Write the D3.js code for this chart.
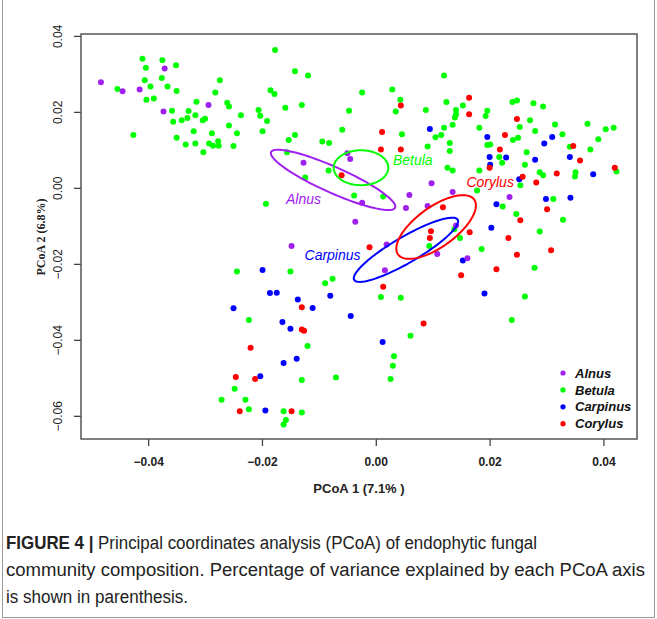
<!DOCTYPE html>
<html>
<head>
<meta charset="utf-8">
<script src="https://cdn.jsdelivr.net/npm/d3@7/dist/d3.min.js"></script>
<style>
body { margin: 0; background: #fff; }
</style>
</head>
<body>
<div id="chart"></div>
<script>
// groups and colours
const groups = ["Alnus", "Betula", "Carpinus", "Corylus"];
const colors = ["#A020F0", "#00FF00", "#0000FF", "#FF0000"];

const xTicks = [-0.04, -0.02, 0, 0.02, 0.04];
const yTicks = [0.04, 0.02, 0, -0.02, -0.04, -0.06];

// PCoA scores [axis1, axis2]
const alnus = [
  [-0.0371, 0.0314], [-0.0483, 0.0278], [-0.0445, 0.0254], [-0.0415, 0.0259],
  [-0.0294, 0.0218], [-0.0373, 0.0201], [-0.0127, 0.0066], [-0.0050, 0.0091],
  [-0.0045, 0.0076], [0.0098, 0.0012], [0.0135, -0.0011], [0.0235, -0.0024],
  [0.0059, -0.0019], [-0.0024, -0.0039], [0.0053, -0.0053], [0.0091, -0.0048],
  [-0.0036, -0.0089], [0.0141, -0.0099], [0.0108, -0.0174], [-0.0148, -0.0153],
  [0.0019, -0.0149], [0.0016, -0.0217], [0.0161, -0.0185]
];

const betula = [
  [-0.0177, 0.0363], [-0.0410, 0.0340], [-0.0375, 0.0336], [-0.0351, 0.0323],
  [-0.0404, 0.0316], [-0.0454, 0.0260], [-0.0406, 0.0283], [-0.0396, 0.0267],
  [-0.0376, 0.0289], [-0.0366, 0.0267], [-0.0350, 0.0255], [-0.0274, 0.0283],
  [-0.0282, 0.0251], [-0.0185, 0.0257], [-0.0178, 0.0247], [-0.0403, 0.0232],
  [-0.0390, 0.0235], [-0.0315, 0.0227], [-0.0261, 0.0224], [-0.0258, 0.0214],
  [-0.0358, 0.0203], [-0.0329, 0.0202], [-0.0317, 0.0191], [-0.0331, 0.0184],
  [-0.0341, 0.0178], [-0.0356, 0.0174], [-0.0300, 0.0182], [-0.0304, 0.0178],
  [-0.0206, 0.0205], [-0.0203, 0.0190], [-0.0237, 0.0191], [-0.0191, 0.0176],
  [-0.0258, 0.0164], [-0.0320, 0.0149], [-0.0288, 0.0144], [-0.0244, 0.0144],
  [-0.0199, 0.0149], [-0.0426, 0.0139], [-0.0350, 0.0132], [-0.0334, 0.0114],
  [-0.0317, 0.0117], [-0.0293, 0.0117], [-0.0277, 0.0123], [-0.0286, 0.0111],
  [-0.0276, 0.0111], [-0.0250, 0.0110], [-0.0303, 0.0094],
  [-0.0142, 0.0307], [-0.0119, 0.0296], [0.0120, 0.0296], [-0.0024, 0.0251],
  [0.0029, 0.0259], [0.0043, 0.0232], [0.0035, 0.0201], [0.0088, 0.0205],
  [0.0124, 0.0226], [0.0141, 0.0205], [0.0141, 0.0194], [0.0139, 0.0185],
  [0.0135, 0.0166], [-0.0159, 0.0211], [-0.0130, 0.0218], [-0.0047, 0.0203],
  [-0.0059, 0.0153], [0.0120, 0.0158], [0.0105, 0.0133], [0.0115, 0.0139],
  [0.0130, 0.0118], [-0.0142, 0.0139], [-0.0153, 0.0126], [0.0046, 0.0141],
  [-0.0094, 0.0122], [-0.0082, 0.0118], [0.0091, 0.0109], [0.0130, 0.0097],
  [-0.0156, 0.0094], [-0.0083, 0.0046], [-0.0124, 0.0027], [0.0126, 0.0053],
  [0.0135, 0.0046],
  [0.0153, 0.0217], [0.0240, 0.0226], [0.0248, 0.0230], [0.0277, 0.0223],
  [0.0294, 0.0214], [0.0196, 0.0203], [0.0193, 0.0189], [0.0271, 0.0178],
  [0.0253, 0.0160], [0.0280, 0.0150], [0.0315, 0.0167], [0.0372, 0.0169],
  [0.0404, 0.0154], [0.0418, 0.0158], [0.0182, 0.0158], [0.0250, 0.0132],
  [0.0241, 0.0126], [0.0328, 0.0141], [0.0391, 0.0128], [0.0196, 0.0113],
  [0.0201, 0.0114], [0.0341, 0.0108], [0.0377, 0.0101], [0.0217, 0.0081],
  [0.0222, 0.0066], [0.0265, 0.0094], [0.0262, 0.0061], [0.0182, 0.0046],
  [0.0288, 0.0041], [0.0294, 0.0033], [0.0351, 0.0041], [0.0350, 0.0030],
  [0.0423, 0.0043],
  [0.0254, 0.0007], [0.0178, -0.0007], [0.0223, -0.0049], [0.0312, -0.0029],
  [0.0247, -0.0069], [0.0329, -0.0084], [0.0138, -0.0109], [0.0148, -0.0132],
  [0.0288, -0.0115], [0.0186, -0.0161], [0.0279, -0.0210], [0.0262, -0.0286],
  [0.0239, -0.0348],
  [-0.0193, -0.0042], [-0.0038, -0.0020], [0.0013, -0.0023], [0.0094, -0.0153],
  [0.0009, -0.0287], [0.0044, -0.0289], [-0.0150, -0.0220], [-0.0089, -0.0251],
  [-0.0076, -0.0239], [-0.0244, -0.0220], [-0.0223, -0.0348], [-0.0248, -0.0529],
  [-0.0271, -0.0558], [-0.0229, -0.0558], [-0.0223, -0.0583], [0.0061, -0.0389],
  [-0.0120, -0.0416], [0.0032, -0.0443], [0.0030, -0.0468], [0.0026, -0.0503],
  [-0.0130, -0.0506], [-0.0070, -0.0499], [-0.0162, -0.0588], [-0.0130, -0.0591],
  [-0.0158, -0.0611], [-0.0162, -0.0623]
];

const carpinus = [
  [0.0095, 0.0155], [0.0196, 0.0134], [0.0310, 0.0134], [0.0296, 0.0117],
  [0.0200, 0.0081], [0.0229, 0.0080], [0.0280, 0.0074], [0.0341, 0.0081],
  [0.0201, 0.0061], [0.0382, 0.0036], [0.0252, 0.0023], [0.0212, -0.0043],
  [0.0299, -0.0029], [0.0342, -0.0026], [0.0203, -0.0105], [0.0153, -0.0191],
  [0.0191, -0.0278], [-0.0199, -0.0216], [-0.0186, -0.0277], [-0.0174, -0.0276],
  [-0.0137, -0.0294], [-0.0080, -0.0284], [-0.0111, -0.0316], [-0.0250, -0.0317],
  [-0.0044, -0.0337], [-0.0164, -0.0353], [-0.0150, -0.0371], [0.0012, -0.0406],
  [-0.0139, -0.0450], [-0.0162, -0.0461], [-0.0203, -0.0496], [-0.0194, -0.0586]
];

const corylus = [
  [0.0044, 0.0217], [0.0011, 0.0147], [0.0009, 0.0101], [0.0044, 0.0101],
  [-0.0060, 0.0033], [0.0164, 0.0237], [0.0164, 0.0194], [0.0248, 0.0181],
  [0.0227, 0.0139], [0.0218, 0.0101], [0.0347, 0.0110], [0.0359, 0.0072],
  [0.0200, 0.0053], [0.0318, 0.0038], [0.0420, 0.0053], [0.0258, 0.0029],
  [0.0282, 0.0014], [0.0118, -0.0051], [0.0254, -0.0085], [0.0301, -0.0056],
  [0.0165, -0.0117], [0.0233, -0.0132], [0.0248, -0.0176], [0.0308, -0.0164],
  [0.0212, -0.0214], [0.0150, -0.0230], [0.0097, -0.0114], [0.0095, -0.0132],
  [-0.0011, -0.0156], [0.0013, -0.0260], [-0.0130, -0.0314], [0.0084, -0.0357],
  [-0.0130, -0.0373], [-0.0126, -0.0376], [-0.0220, -0.0421], [-0.0246, -0.0498],
  [-0.0212, -0.0503], [-0.0239, -0.0588], [-0.0148, -0.0588]
];

// group ellipses: centre and the two semi-axis vectors, in PCoA units
const ellipseCentre = [[-0.0075, 0.0021], [-0.0026, 0.0053], [0.0053, -0.0163], [0.0106, -0.0103]];
const ellipseAxisU = [[0.0109, -0.0073], [0.0048, 0.0000], [0.0091, 0.0079], [0.0067, 0.0072]];
const ellipseAxisV = [[-0.0009, -0.0031], [0.0000, 0.0046], [0.0011, -0.0030], [0.0020, -0.0043]];
const labelPos = [[-0.0127, -0.0030], [0.0065, 0.0072], [-0.0076, -0.0176], [0.0201, 0.0014]];

const scores = [alnus, betula, carpinus, corylus];

const width = 657, height = 619;
const svg = d3.select("#chart").append("svg")
  .attr("width", width)
  .attr("height", height)
  .style("font-family", "'Liberation Sans', Arial, sans-serif");

svg.append("rect").attr("x", 2.5).attr("y", -1).attr("width", 652).attr("height", 618.5)
  .attr("fill", "none").attr("stroke", "#9a9a9a").attr("stroke-width", 1);

const x = d3.scaleLinear().domain([-0.0518, 0.0459]).range([81, 637]);
const y = d3.scaleLinear().domain([-0.0661, 0.0405]).range([439, 34]);

// axes
const xAxis = svg.append("g").attr("transform", "translate(0,439)")
  .call(d3.axisBottom(x).tickValues(xTicks).tickFormat(d3.format(".2f")).tickSize(7).tickPadding(11));
xAxis.select(".domain").remove();
xAxis.selectAll("line").attr("stroke", "#444").attr("stroke-width", 1.3);
xAxis.selectAll("text").attr("font-size", 12).attr("font-weight", "bold").attr("fill", "#222")
  .attr("font-family", "'Liberation Sans', Arial, sans-serif");

const yAxis = svg.append("g").attr("transform", "translate(81,0)")
  .call(d3.axisLeft(y).tickValues(yTicks).tickFormat(d3.format(".2f")).tickSize(7));
yAxis.select(".domain").remove();
yAxis.selectAll("line").attr("stroke", "#444").attr("stroke-width", 1.3);
yAxis.selectAll("text")
  .attr("font-size", 12).attr("fill", "#222")
  .attr("font-family", "'Liberation Sans', Arial, sans-serif")
  .attr("text-anchor", "middle")
  .attr("x", 0).attr("dy", null)
  .attr("transform", "translate(-19,0) rotate(-90)");

svg.append("rect").attr("x", 81).attr("y", 34).attr("width", 556).attr("height", 405)
  .attr("fill", "none").attr("stroke", "#555").attr("stroke-width", 1.5);

svg.append("text").attr("x", 359).attr("y", 493).attr("text-anchor", "middle")
  .attr("font-size", 13).attr("font-weight", "bold").attr("fill", "#222")
  .text("PCoA 1 (7.1% )");

svg.append("text").attr("transform", "translate(45,237) rotate(-90)").attr("text-anchor", "middle")
  .attr("font-size", 12).attr("font-weight", "bold").attr("fill", "#222")
  .attr("font-family", "'Liberation Serif', 'Times New Roman', serif")
  .text("PCoA 2 (6.8%)");

// points
const drawOrder = [1, 2, 3, 0];
drawOrder.forEach(i => {
  svg.append("g").selectAll("circle")
    .data(scores[i])
    .enter()
    .append("circle")
    .attr("cx", d => x(d[0]))
    .attr("cy", d => y(d[1]))
    .attr("r", 3)
    .attr("fill", colors[i]);
});

// ellipses
const line = d3.line().x(d => x(d[0])).y(d => y(d[1])).curve(d3.curveLinearClosed);
groups.forEach((g, i) => {
  const c = ellipseCentre[i], u = ellipseAxisU[i], v = ellipseAxisV[i];
  const pts = d3.range(0, 120).map(k => {
    const t = k / 120 * 2 * Math.PI;
    return [c[0] + u[0] * Math.cos(t) + v[0] * Math.sin(t),
            c[1] + u[1] * Math.cos(t) + v[1] * Math.sin(t)];
  });
  svg.append("path").attr("d", line(pts)).attr("fill", "none")
    .attr("stroke", colors[i]).attr("stroke-width", 2);
  svg.append("text")
    .attr("x", x(labelPos[i][0])).attr("y", y(labelPos[i][1]))
    .attr("dy", "0.35em").attr("text-anchor", "middle")
    .attr("font-size", 14).attr("font-style", "italic")
    .attr("fill", colors[i]).text(g);
});

// legend
const legend = svg.append("g");
groups.forEach((g, i) => {
  const ly = 373 + i * 16.9;
  legend.append("circle").attr("cx", 563).attr("cy", ly).attr("r", 2.6).attr("fill", colors[i]);
  legend.append("text").attr("x", 575).attr("y", ly).attr("dy", "0.36em")
    .attr("font-size", 13).attr("font-style", "italic").attr("font-weight", "bold")
    .attr("fill", "#111").text(g);
});

// caption
const cap = svg.append("g").attr("font-family", "'Liberation Sans Narrow', 'Liberation Sans', sans-serif")
  .attr("font-size", 18).attr("fill", "#222");
const l1 = cap.append("text").attr("x", 6).attr("y", 549)
  .attr("textLength", 531).attr("lengthAdjust", "spacingAndGlyphs");
l1.append("tspan").attr("font-weight", "bold").text("FIGURE 4 | ");
l1.append("tspan").text("Principal coordinates analysis (PCoA) of endophytic fungal");
cap.append("text").attr("x", 6).attr("y", 576)
  .attr("textLength", 639).attr("lengthAdjust", "spacingAndGlyphs")
  .text("community composition. Percentage of variance explained by each PCoA axis");
cap.append("text").attr("x", 6).attr("y", 603)
  .attr("textLength", 182).attr("lengthAdjust", "spacingAndGlyphs")
  .text("is shown in parenthesis.");
</script>
</body>
</html>
